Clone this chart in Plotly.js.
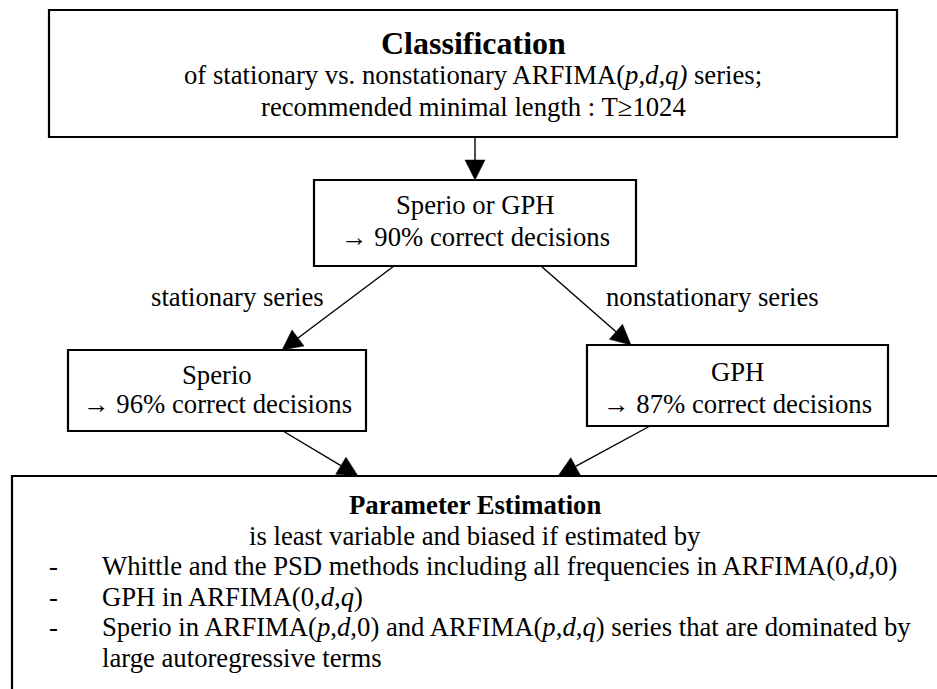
<!DOCTYPE html>
<html><head><meta charset="utf-8">
<script src="https://cdn.plot.ly/plotly-3.0.1.min.js"></script>
<style>html,body{margin:0;padding:0;background:#fff}#chart{width:937px;height:689px}</style>
</head><body><div id="chart"></div>
<script>
// ---------- content ----------
const classTitle = 'Classification';
const classLines = ['of stationary vs. nonstationary ARFIMA(<i>p,d,q)</i> series;',
                    'recommended minimal length : T\u22651024'];
const rootLines = ['Sperio or GPH', '\u2192 90% correct decisions'];
const branchLabels = ['stationary series', 'nonstationary series'];
const leftLeafLines = ['Sperio', '\u2192 96% correct decisions'];
const rightLeafLines = ['GPH', '\u2192 87% correct decisions'];
const estTitle = 'Parameter Estimation';
const estIntro = 'is least variable and biased if estimated by';
const estBullets = [
  ['Whittle and the PSD methods including all frequencies in ARFIMA(0,<i>d,</i>0)'],
  ['GPH in ARFIMA(0,<i>d</i>,<i>q</i>)'],
  ['Sperio in ARFIMA(<i>p</i>,<i>d</i>,0) and ARFIMA(<i>p</i>,<i>d</i>,<i>q</i>) series that are dominated by',
   'large autoregressive terms']
];

// ---------- layout geometry (pixels) ----------
const W = 937, H = 689;
const FONT = '"Liberation Serif", "Times New Roman", serif';
const BODY = 26.7, BIG = 32;
const boxes = {
  top:   {x0: 49,  x1: 897, y0: 10,  y1: 137},
  root:  {x0: 314, x1: 636, y0: 180, y1: 266},
  left:  {x0: 68,  x1: 366, y0: 350, y1: 431},
  right: {x0: 587, x1: 888, y0: 345, y1: 426},
  est:   {x0: 12,  x1: 960, y0: 476, y1: 720}
};
const arrows = [
  {from: [475, 137], to: [475, 180]},
  {from: [394, 266], to: [282, 350]},
  {from: [541, 266], to: [631, 345]},
  {from: [283, 431], to: [358, 476]},
  {from: [650, 426], to: [558, 476]}
];

const shapes = [];
const annotations = [];

function txt(x, y, text, opts) {
  opts = opts || {};
  annotations.push({
    x: x, y: y, xref: 'x', yref: 'y', text: opts.bold ? '<b>' + text + '</b>' : text,
    showarrow: false, xanchor: opts.anchor || 'center', yanchor: 'middle',
    font: {family: FONT, size: opts.size || BODY, color: '#000'}
  });
}

// arrows (lines + heads)
arrows.forEach(a => {
  const [x0, y0] = a.from, [x1, y1] = a.to;
  const dx = x1 - x0, dy = y1 - y0, len = Math.hypot(dx, dy);
  const ux = dx / len, uy = dy / len, nx = -uy, ny = ux;
  const L = 20, HW = 10;
  const bx = x1 - L * ux, by = y1 - L * uy;
  shapes.push({type: 'line', xref: 'x', yref: 'y', x0: x0, y0: y0, x1: bx, y1: by,
               line: {color: '#000', width: 1.4}});
  shapes.push({type: 'path', xref: 'x', yref: 'y',
    path: `M ${x1} ${y1} L ${bx + HW * nx} ${by + HW * ny} L ${bx - HW * nx} ${by - HW * ny} Z`,
    fillcolor: '#000', line: {color: '#000', width: 0.5}});
});

// boxes
Object.values(boxes).forEach(b => {
  shapes.push({type: 'rect', xref: 'x', yref: 'y', x0: b.x0, x1: b.x1, y0: b.y0, y1: b.y1,
               fillcolor: 'rgba(255,255,255,0)', line: {color: '#000', width: 2.2}});
});

// texts
const cx = (b) => (b.x0 + b.x1) / 2;
txt(cx(boxes.top), 43, classTitle, {bold: true, size: BIG});
txt(cx(boxes.top), 75, classLines[0]);
txt(cx(boxes.top), 107, classLines[1]);

txt(cx(boxes.root), 205, rootLines[0]);
txt(cx(boxes.root), 237, rootLines[1]);

txt(237, 297, branchLabels[0]);
txt(712, 297, branchLabels[1]);

txt(cx(boxes.left), 375, leftLeafLines[0]);
txt(cx(boxes.left), 404, leftLeafLines[1]);
txt(cx(boxes.right), 372, rightLeafLines[0]);
txt(cx(boxes.right), 404, rightLeafLines[1]);

const estCx = 475, LS = 30.5;
let y = 505;
txt(estCx, y, estTitle, {bold: true});
y += LS;
txt(estCx, y, estIntro);
estBullets.forEach(lines => {
  lines.forEach((ln, i) => {
    y += LS;
    if (i === 0) txt(53, y, '-', {});
    txt(100, y, ln, {anchor: 'left'});
  });
});

Plotly.newPlot('chart', [], {
  width: W, height: H,
  margin: {l: 0, r: 0, t: 0, b: 0},
  paper_bgcolor: '#fff', plot_bgcolor: '#fff',
  xaxis: {range: [0, W], visible: false, fixedrange: true},
  yaxis: {range: [H, 0], visible: false, fixedrange: true},
  showlegend: false,
  shapes: shapes,
  annotations: annotations
}, {staticPlot: true, displayModeBar: false});
</script>
</body></html>
